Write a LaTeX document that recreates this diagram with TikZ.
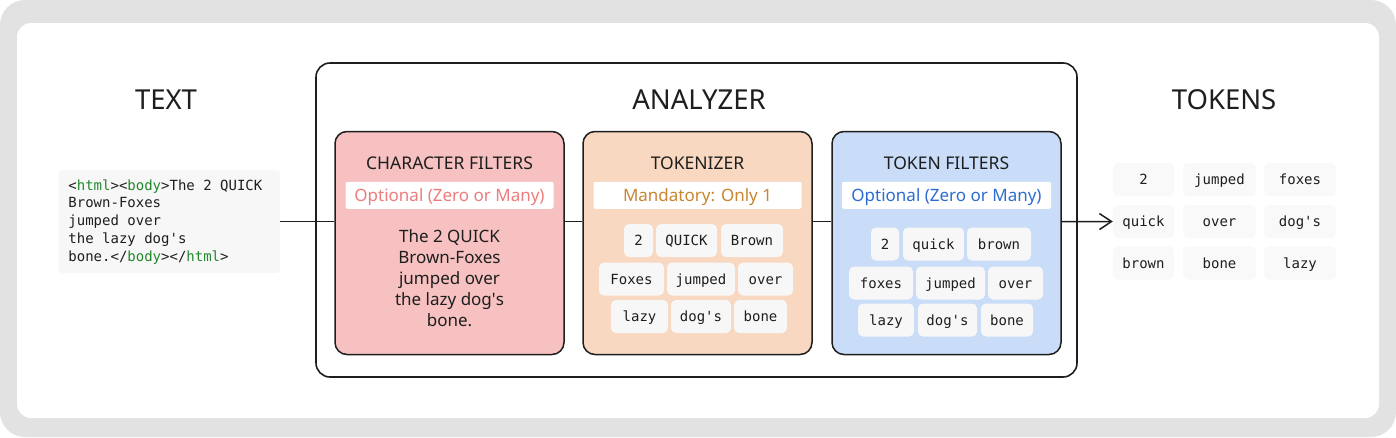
\documentclass[tikz,border=0pt]{standalone}
\usepackage{fontspec}
\setmainfont{Noto Sans}
\setmonofont{DejaVu Sans Mono}
\usepackage{xcolor}
\usepackage{tikz}
\usetikzlibrary{calc}
\usetikzlibrary{arrows.meta}
\usetikzlibrary{positioning}
\definecolor{cardgray}{RGB}{226,226,226}
\definecolor{cfpink}{RGB}{247,193,193}
\definecolor{tkpeach}{RGB}{248,216,192}
\definecolor{tfblue}{RGB}{201,220,248}
\definecolor{chipgray}{RGB}{247,247,247}
\definecolor{inkdark}{RGB}{30,30,30}
\definecolor{optred}{RGB}{238,124,124}
\definecolor{mandgold}{RGB}{200,134,48}
\definecolor{optblue}{RGB}{44,108,210}
\definecolor{tagcol}{RGB}{34,136,44}
\newcommand{\apos}{\textquotesingle}
\newcommand{\tg}[1]{\textcolor{tagcol}{#1}}
\newcommand{\msp}{\hbox to 0.602em{}}
\newcommand{\monofont}[1]{\ttfamily\fontsize{14}{#1}\selectfont}

\begin{document}
\begin{tikzpicture}[
x=1pt,y=-1pt,
BigTitle/.style={font=\fontsize{27.5}{33}\selectfont,inner sep=0pt,text=inkdark},
Stage/.style={draw=inkdark,line width=1.5pt,rounded corners=12pt,minimum width=229pt,minimum height=223pt,inner sep=0pt},
StageTitle/.style={font=\fontsize{17.5}{20}\selectfont,inner sep=0pt,text=inkdark},
WhiteTag/.style={fill=white,minimum width=208pt,minimum height=27pt,inner sep=0pt,rounded corners=2pt,text height=14pt,text depth=1.9pt,font=\fontsize{17}{20}\selectfont},
Chip/.style={fill=chipgray,rounded corners=5pt,minimum height=33pt,inner sep=0pt,text height=12pt,text depth=1.5pt,font=\monofont{17},text=inkdark},
Wire/.style={draw=inkdark,line width=1.5pt}
]
\useasboundingbox (0,0) rectangle (1396,437);

% card
\fill[cardgray,rounded corners=25pt] (0,0) rectangle (1396,437);
\fill[white,rounded corners=14pt] (17,23) rectangle (1379,418);

% titles
\node[BigTitle] (ttext) at (166,100) {TEXT};
\node[BigTitle] (tanalyzer) at (699,100) {ANALYZER};
\node[BigTitle] (ttokens) at (1224,100) {TOKENS};

% input text
\node[fill=chipgray,rounded corners=4pt,anchor=north west,minimum width=221.5pt,minimum height=103pt,
inner xsep=9.5pt,text width=202pt,align=left,text=inkdark,
font=\monofont{17.7}] (code) at (58.5,170)
{<\tg{html}><\tg{body}>The\msp2\msp QUICK\\Brown-Foxes\\jumped\msp over\\the\msp lazy\msp dog\apos s\\bone.</\tg{body}></\tg{html}>};

% analyzer frame
\node[draw=inkdark,line width=1.6pt,rounded corners=14pt,minimum width=761pt,minimum height=314pt] (an) at (696.5,220) {};

% stages
\node[Stage,fill=cfpink] (cf) at (449.5,243) {};
\node[Stage,fill=tkpeach] (tk) at (697.5,243) {};
\node[Stage,fill=tfblue] (tf) at (946.5,243) {};

\node[StageTitle] (cftitle) at ($(cf.north)+(0,32)$) {CHARACTER FILTERS};
\node[StageTitle] (tktitle) at ($(tk.north)+(0,32)$) {TOKENIZER};
\node[StageTitle] (tftitle) at ($(tf.north)+(0,32)$) {TOKEN FILTERS};

\node[WhiteTag,text=optred] (cftag) at ($(cf.north)+(0,64.5)$) {Optional (Zero or Many)};
\node[WhiteTag,text=mandgold] (tktag) at ($(tk.north)+(0,64.5)$) {Mandatory: Only 1};
\node[WhiteTag,text=optblue,minimum width=209pt] (tftag) at ($(tf.north)+(0,64.5)$) {Optional (Zero or Many)};

% character filter output
\node[align=center,inner sep=0pt,text=inkdark,font=\fontsize{17}{21}\selectfont] (cftxt) at (449.5,278)
{The 2 QUICK\\Brown-Foxes\\jumped over\\the lazy dog\apos s\\bone.};

% tokenizer chips
\node[Chip,minimum width=29pt] (tk1) at (638.5,240.5) {2};
\node[Chip,minimum width=61pt] (tk2) at (686.5,240.5) {QUICK};
\node[Chip,minimum width=62pt] (tk3) at (752,240.5) {Brown};
\node[Chip,minimum width=65pt] (tk4) at (631.5,279) {Foxes};
\node[Chip,minimum width=68pt] (tk5) at (701,279) {jumped};
\node[Chip,minimum width=55pt] (tk6) at (765.5,279) {over};
\node[Chip,minimum width=57pt] (tk7) at (639.5,316.5) {lazy};
\node[Chip,minimum width=60pt] (tk8) at (701,316.5) {dog\apos s};
\node[Chip,minimum width=53pt] (tk9) at (760.5,316.5) {bone};

% token filter chips
\node[Chip,minimum width=28pt] (tf1) at (885,244) {2};
\node[Chip,minimum width=61pt] (tf2) at (933.5,244) {quick};
\node[Chip,minimum width=64pt] (tf3) at (999,244) {brown};
\node[Chip,minimum width=64pt] (tf4) at (881,283) {foxes};
\node[Chip,minimum width=69pt] (tf5) at (950.5,283) {jumped};
\node[Chip,minimum width=55pt] (tf6) at (1015.5,283) {over};
\node[Chip,minimum width=56pt] (tf7) at (886,320) {lazy};
\node[Chip,minimum width=59pt] (tf8) at (947.5,320) {dog\apos s};
\node[Chip,minimum width=52pt] (tf9) at (1007,320) {bone};

% resulting tokens
\node[Chip,fill=chipgray!70!white,minimum width=61pt] (o11) at (1143.5,179.5) {2};
\node[Chip,fill=chipgray!70!white,minimum width=73pt] (o12) at (1219.5,179.5) {jumped};
\node[Chip,fill=chipgray!70!white,minimum width=72pt] (o13) at (1300,179.5) {foxes};
\node[Chip,fill=chipgray!70!white,minimum width=61pt] (o21) at (1143.5,221.5) {quick};
\node[Chip,fill=chipgray!70!white,minimum width=73pt] (o22) at (1219.5,221.5) {over};
\node[Chip,fill=chipgray!70!white,minimum width=72pt] (o23) at (1300,221.5) {dog\apos s};
\node[Chip,fill=chipgray!70!white,minimum width=61pt] (o31) at (1143.5,263) {brown};
\node[Chip,fill=chipgray!70!white,minimum width=73pt] (o32) at (1219.5,263) {bone};
\node[Chip,fill=chipgray!70!white,minimum width=72pt] (o33) at (1300,263) {lazy};

% wires
\draw[Wire] (code.east) -- (code.east -| cf.west);
\draw[Wire] (code.east -| cf.east) -- (code.east -| tk.west);
\draw[Wire] (code.east -| tk.east) -- (code.east -| tf.west);
\draw[Wire,-{Straight Barb[length=12pt,width=16pt,line width=1.5pt]}] (code.east -| tf.east) -- (o21.west);

\end{tikzpicture}
\end{document}
